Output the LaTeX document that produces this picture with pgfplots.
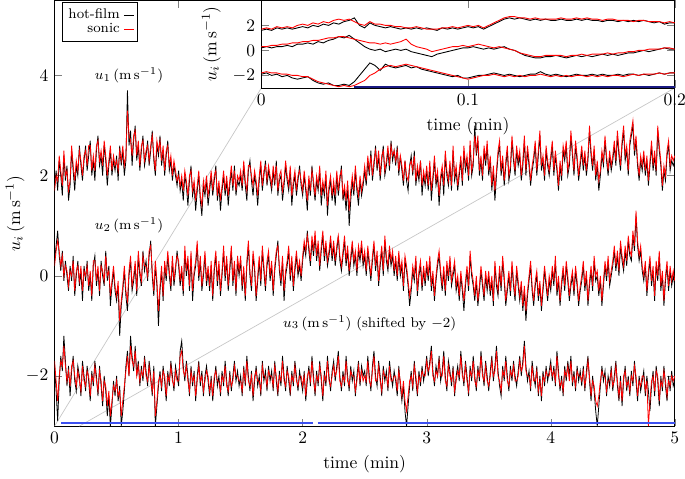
\documentclass[border=0pt]{standalone}
\usepackage{pgfplots}
\pgfplotsset{compat=1.18}
\usepackage{pgfplotstable}
\definecolor{flagblue}{RGB}{60,80,240}
\definecolor{navyblue}{RGB}{25,25,130}

% main series, one value every 0.0125 min from 0 to 5 min (401 values)
\pgfplotstableread[row sep=\\]{y\\
1.8\\2.1\\1.7\\2.3\\2.0\\1.6\\2.4\\1.9\\2.2\\1.5\\1.8\\2.5\\2.1\\1.7\\2.2\\2.0\\2.6\\2.2\\1.9\\2.3\\
2.6\\2.1\\2.4\\2.7\\2.0\\2.3\\1.9\\2.5\\2.8\\2.2\\2.4\\2.0\\2.6\\2.3\\1.8\\2.2\\2.5\\2.0\\2.3\\2.1\\
2.4\\1.9\\2.6\\2.2\\2.5\\2.0\\2.3\\3.7\\2.6\\2.9\\2.2\\2.7\\3.0\\2.3\\2.6\\2.1\\2.5\\2.8\\2.2\\2.4\\
2.7\\2.2\\2.5\\2.9\\2.3\\2.0\\2.6\\2.4\\2.8\\2.2\\2.5\\2.0\\2.4\\2.7\\2.1\\2.3\\1.9\\2.2\\2.0\\1.8\\
2.1\\1.7\\1.9\\1.5\\2.0\\1.8\\1.4\\1.9\\2.2\\1.6\\1.8\\1.3\\1.7\\2.0\\1.5\\1.2\\1.8\\1.6\\1.9\\1.4\\
1.7\\2.0\\1.6\\1.9\\2.2\\1.5\\1.8\\1.3\\1.7\\2.0\\1.6\\1.9\\1.4\\1.8\\2.1\\1.7\\2.2\\1.6\\1.9\\1.8\\
2.0\\1.7\\2.2\\1.8\\1.5\\2.1\\2.3\\1.9\\1.6\\2.0\\1.8\\1.4\\1.9\\2.2\\1.7\\2.0\\2.3\\1.8\\2.1\\1.9\\
1.7\\2.1\\1.8\\2.3\\1.6\\1.9\\2.0\\1.5\\1.8\\2.2\\1.9\\1.7\\2.1\\1.4\\1.8\\2.0\\1.6\\1.9\\2.2\\1.8\\
1.6\\2.0\\1.7\\1.3\\1.9\\1.6\\2.2\\1.8\\1.5\\1.9\\1.7\\2.1\\1.4\\1.8\\1.6\\2.0\\1.2\\1.7\\1.9\\1.5\\
1.8\\1.4\\2.0\\1.6\\1.9\\2.2\\1.5\\1.7\\1.3\\1.8\\1.0\\1.5\\1.9\\1.6\\2.1\\1.7\\1.4\\1.9\\1.6\\1.8\\
2.1\\1.8\\2.3\\2.0\\2.5\\1.9\\2.2\\2.6\\2.1\\2.4\\1.9\\2.3\\2.6\\2.0\\2.2\\2.5\\2.1\\2.7\\2.3\\2.5\\
2.2\\2.6\\2.0\\2.4\\2.1\\1.8\\2.3\\1.9\\1.7\\2.2\\2.4\\2.0\\2.5\\1.8\\2.1\\1.9\\2.3\\1.6\\2.0\\1.8\\
2.1\\1.7\\2.2\\1.5\\1.9\\2.3\\1.8\\2.0\\1.4\\1.9\\2.1\\1.6\\2.4\\2.0\\1.8\\2.2\\1.7\\2.5\\1.9\\2.1\\
1.7\\2.0\\2.3\\1.8\\2.5\\2.1\\2.3\\1.9\\2.6\\2.0\\2.2\\3.0\\2.4\\2.7\\2.0\\2.3\\1.9\\2.5\\2.2\\2.6\\
2.0\\2.3\\1.7\\2.1\\1.5\\2.0\\2.4\\2.6\\2.0\\2.3\\1.8\\2.2\\2.5\\1.9\\2.1\\2.7\\2.3\\2.0\\2.5\\2.2\\
2.4\\1.9\\2.2\\2.7\\2.0\\2.5\\2.2\\1.8\\2.1\\2.3\\2.6\\2.0\\2.4\\2.8\\2.1\\2.3\\1.9\\2.5\\2.2\\2.0\\
2.3\\2.6\\2.0\\2.4\\2.1\\1.7\\2.2\\1.9\\2.5\\2.3\\2.6\\2.0\\2.2\\2.8\\2.4\\2.0\\2.6\\2.3\\1.9\\2.2\\
2.5\\2.1\\2.4\\2.0\\2.3\\2.9\\2.4\\2.1\\2.5\\1.9\\2.2\\1.7\\2.0\\2.4\\2.2\\2.7\\2.3\\2.0\\2.4\\2.1\\
2.3\\2.6\\2.2\\2.8\\2.4\\2.1\\2.6\\2.9\\2.3\\2.5\\2.0\\2.6\\2.8\\3.0\\2.4\\2.7\\2.2\\1.9\\2.3\\2.1\\
2.4\\2.0\\2.3\\1.8\\2.2\\2.6\\2.1\\2.4\\2.0\\2.9\\2.5\\2.2\\1.7\\2.1\\1.9\\2.4\\2.6\\2.1\\2.3\\2.2\\2.3\\}\uoneh

\pgfplotstableread[row sep=\\]{y\\
1.7\\2.0\\1.9\\2.4\\2.1\\1.8\\2.5\\2.0\\2.1\\1.7\\1.9\\2.6\\2.2\\1.9\\2.3\\2.1\\2.5\\2.3\\2.0\\2.4\\
2.5\\2.2\\2.6\\2.6\\2.1\\2.4\\2.1\\2.6\\2.7\\2.3\\2.5\\2.2\\2.7\\2.4\\2.0\\2.3\\2.6\\2.1\\2.4\\2.2\\
2.3\\2.1\\2.5\\2.3\\2.6\\2.2\\2.4\\3.3\\2.8\\2.7\\2.4\\2.8\\2.9\\2.4\\2.7\\2.2\\2.6\\2.7\\2.3\\2.5\\
2.6\\2.3\\2.6\\2.8\\2.4\\2.1\\2.7\\2.5\\2.7\\2.3\\2.6\\2.1\\2.5\\2.6\\2.2\\2.4\\2.0\\2.3\\2.1\\1.9\\
2.0\\1.8\\2.0\\1.7\\2.1\\1.9\\1.6\\2.0\\2.1\\1.7\\1.9\\1.5\\1.8\\2.1\\1.6\\1.4\\1.9\\1.7\\2.0\\1.6\\
1.8\\2.1\\1.7\\2.0\\2.1\\1.6\\1.9\\1.5\\1.8\\2.1\\1.7\\2.0\\1.6\\1.9\\2.2\\1.8\\2.1\\1.7\\2.0\\1.9\\
2.1\\1.8\\2.3\\1.9\\1.7\\2.2\\2.2\\2.0\\1.8\\2.1\\1.9\\1.6\\2.0\\2.3\\1.8\\2.1\\2.2\\1.9\\2.2\\2.0\\
1.8\\2.2\\1.9\\2.2\\1.7\\2.0\\2.1\\1.7\\1.9\\2.3\\2.0\\1.8\\2.2\\1.6\\1.9\\2.1\\1.7\\2.0\\2.1\\1.9\\
1.7\\2.1\\1.8\\1.5\\2.0\\1.7\\2.1\\1.9\\1.6\\2.0\\1.8\\2.2\\1.6\\1.9\\1.7\\2.1\\1.4\\1.8\\2.0\\1.6\\
1.9\\1.6\\2.1\\1.7\\2.0\\2.1\\1.6\\1.8\\1.5\\1.9\\1.3\\1.7\\2.0\\1.7\\2.2\\1.8\\1.6\\2.0\\1.7\\1.9\\
2.2\\1.9\\2.4\\2.1\\2.4\\2.0\\2.3\\2.5\\2.2\\2.5\\2.0\\2.4\\2.5\\2.1\\2.3\\2.6\\2.2\\2.6\\2.4\\2.5\\
2.3\\2.5\\2.1\\2.4\\2.2\\1.9\\2.3\\2.0\\1.9\\2.2\\2.3\\2.1\\2.4\\1.9\\2.2\\2.0\\2.3\\1.8\\2.1\\1.9\\
2.2\\1.8\\2.3\\1.7\\2.0\\2.4\\1.9\\2.1\\1.6\\2.0\\2.2\\1.8\\2.5\\2.1\\1.9\\2.3\\1.8\\2.6\\2.0\\2.2\\
1.8\\2.1\\2.4\\1.9\\2.6\\2.2\\2.4\\2.0\\2.7\\2.1\\2.3\\2.8\\2.5\\2.8\\2.1\\2.4\\2.0\\2.6\\2.3\\2.7\\
2.1\\2.4\\1.8\\2.2\\1.7\\2.1\\2.5\\2.7\\2.1\\2.4\\1.9\\2.3\\2.6\\2.0\\2.2\\2.8\\2.4\\2.1\\2.6\\2.3\\
2.5\\2.0\\2.3\\2.8\\2.1\\2.6\\2.3\\1.9\\2.2\\2.4\\2.7\\2.1\\2.5\\2.9\\2.2\\2.4\\2.0\\2.6\\2.3\\2.1\\
2.4\\2.7\\2.1\\2.5\\2.2\\1.8\\2.3\\2.0\\2.6\\2.4\\2.7\\2.1\\2.3\\2.9\\2.5\\2.1\\2.7\\2.4\\2.0\\2.3\\
2.6\\2.2\\2.5\\2.1\\2.4\\3.0\\2.5\\2.2\\2.6\\2.0\\2.3\\1.9\\2.1\\2.5\\2.3\\2.8\\2.4\\2.1\\2.5\\2.2\\
2.4\\2.7\\2.3\\2.9\\2.5\\2.2\\2.7\\3.0\\2.4\\2.6\\2.1\\2.7\\2.9\\3.1\\2.5\\2.8\\2.3\\2.0\\2.4\\2.2\\
2.5\\2.1\\2.4\\1.9\\2.3\\2.7\\2.2\\2.5\\2.1\\3.0\\2.6\\2.3\\1.8\\2.2\\2.0\\2.5\\2.7\\2.2\\2.4\\2.3\\2.4\\}\uones

\pgfplotstableread[row sep=\\]{y\\
0.3\\0.6\\0.9\\0.4\\0.1\\0.5\\-0.1\\0.3\\0.0\\-0.3\\0.2\\-0.1\\0.4\\-0.4\\0.0\\0.3\\-0.2\\0.1\\-0.5\\0.2\\
-0.1\\0.3\\-0.3\\0.0\\-0.5\\0.2\\0.4\\-0.2\\0.1\\-0.4\\0.3\\0.0\\-0.2\\0.5\\-0.1\\0.2\\-0.6\\-0.2\\0.1\\-0.3\\
-0.5\\-0.2\\-1.2\\-0.6\\-0.3\\0.1\\-0.4\\-0.7\\0.0\\0.3\\-0.3\\-0.1\\0.2\\-0.4\\0.4\\0.0\\-0.2\\0.5\\0.1\\0.3\\
-0.1\\0.4\\0.7\\0.0\\-0.4\\0.2\\-0.2\\-1.0\\-0.3\\0.1\\-0.5\\0.2\\-0.1\\0.4\\0.0\\-0.3\\0.3\\-0.2\\0.1\\0.5\\
0.2\\-0.2\\0.1\\-0.4\\0.5\\0.0\\0.3\\-0.3\\0.4\\-0.5\\0.0\\0.2\\0.6\\-0.1\\0.3\\-0.3\\0.0\\0.4\\-0.2\\0.1\\
-0.3\\0.2\\-0.5\\0.1\\0.4\\-0.2\\0.2\\-0.4\\0.0\\0.5\\-0.1\\0.3\\-0.3\\0.1\\0.5\\-0.2\\0.2\\-0.4\\0.3\\0.0\\
0.3\\-0.3\\0.1\\-0.5\\0.2\\0.6\\0.0\\-0.3\\0.4\\0.1\\-0.5\\-0.1\\0.3\\-0.2\\0.5\\0.1\\-0.3\\0.2\\0.4\\-0.1\\
0.2\\-0.4\\0.1\\0.4\\0.7\\0.1\\-0.2\\0.3\\-0.5\\0.0\\0.2\\0.5\\-0.1\\0.3\\-0.3\\0.1\\0.4\\0.0\\0.2\\-0.1\\
0.3\\0.6\\0.4\\0.9\\0.5\\0.2\\0.7\\0.4\\0.8\\0.3\\0.6\\0.1\\0.5\\0.8\\0.3\\0.6\\0.2\\0.4\\0.7\\0.3\\
0.6\\0.2\\0.5\\0.8\\0.3\\0.1\\0.4\\0.7\\0.2\\0.5\\0.0\\0.3\\0.6\\0.2\\0.4\\0.0\\0.5\\0.3\\0.6\\0.2\\
0.4\\0.0\\0.5\\0.2\\-0.1\\0.3\\0.6\\0.1\\0.4\\-0.2\\0.2\\0.5\\0.0\\0.7\\0.3\\0.1\\0.5\\0.2\\0.4\\0.0\\
0.3\\-0.1\\0.4\\0.0\\0.2\\-0.3\\0.3\\0.1\\-0.2\\-0.6\\-0.3\\0.1\\-0.1\\0.3\\-0.4\\0.0\\0.2\\-0.3\\0.1\\-0.2\\
0.2\\-0.1\\0.3\\-0.3\\0.0\\-0.5\\-0.1\\0.2\\0.4\\0.0\\-0.3\\0.1\\-0.4\\0.2\\-0.1\\0.3\\-0.2\\0.0\\0.2\\-0.3\\
-0.1\\-0.5\\0.0\\-0.3\\-0.7\\-0.2\\0.1\\-0.3\\0.4\\0.0\\-0.2\\-0.5\\-0.1\\-0.6\\-0.3\\0.1\\-0.2\\-0.5\\0.0\\-0.3\\
0.0\\-0.4\\-0.1\\-0.6\\0.2\\-0.2\\-0.4\\0.1\\-0.3\\0.3\\-0.1\\-0.6\\-0.3\\0.0\\-0.4\\0.2\\-0.2\\-0.5\\0.1\\-0.2\\
-0.5\\-0.2\\-0.7\\-0.3\\-0.9\\-0.4\\-0.1\\0.2\\-0.3\\-0.6\\-0.2\\0.0\\-0.5\\-0.2\\-0.7\\-0.3\\0.1\\-0.2\\-0.5\\-0.1\\
-0.3\\0.1\\-0.2\\0.3\\-0.4\\-0.1\\-0.6\\-0.2\\0.1\\-0.3\\0.2\\-0.1\\-0.5\\-0.2\\0.0\\-0.4\\0.1\\-0.2\\-0.6\\-0.3\\
-0.1\\0.2\\-0.3\\0.0\\-0.6\\-0.2\\0.1\\-0.3\\0.3\\-0.1\\0.0\\-0.4\\-0.1\\-0.6\\-0.2\\0.2\\-0.1\\0.3\\-0.2\\0.0\\
0.2\\0.5\\0.1\\0.4\\0.0\\0.6\\0.3\\0.1\\0.5\\0.2\\0.7\\0.4\\0.3\\0.8\\0.5\\1.2\\0.6\\0.3\\0.5\\0.1\\
-0.1\\0.2\\-0.4\\0.0\\0.3\\-0.2\\0.1\\-0.5\\0.2\\-0.1\\0.4\\-0.3\\0.0\\-0.6\\-0.1\\0.2\\-0.3\\0.1\\-0.2\\0.0\\-0.2\\}\utwoh

\pgfplotstableread[row sep=\\]{y\\
0.2\\0.5\\0.7\\0.5\\0.2\\0.4\\0.0\\0.2\\0.1\\-0.2\\0.1\\0.0\\0.3\\-0.3\\0.1\\0.2\\-0.1\\0.2\\-0.3\\0.1\\
0.0\\0.2\\-0.2\\0.1\\-0.4\\0.3\\0.3\\-0.1\\0.2\\-0.3\\0.2\\0.1\\-0.1\\0.4\\0.0\\0.1\\-0.4\\-0.1\\0.2\\-0.2\\
-0.4\\-0.1\\-0.9\\-0.5\\-0.2\\0.2\\-0.3\\-0.5\\0.1\\0.4\\-0.2\\0.0\\0.3\\-0.3\\0.5\\0.1\\-0.1\\0.4\\0.2\\0.2\\
0.0\\0.5\\0.6\\0.1\\-0.3\\0.3\\-0.1\\-0.7\\-0.2\\0.2\\-0.4\\0.3\\0.0\\0.5\\0.1\\-0.2\\0.4\\-0.1\\0.2\\0.4\\
0.3\\-0.1\\0.2\\-0.3\\0.6\\0.1\\0.4\\-0.2\\0.5\\-0.3\\0.1\\0.3\\0.7\\0.0\\0.4\\-0.2\\0.1\\0.5\\-0.1\\0.2\\
-0.2\\0.3\\-0.4\\0.2\\0.5\\-0.1\\0.3\\-0.3\\0.1\\0.6\\0.0\\0.4\\-0.2\\0.2\\0.6\\-0.1\\0.3\\-0.3\\0.4\\0.1\\
0.4\\-0.2\\0.2\\-0.4\\0.3\\0.7\\0.1\\-0.2\\0.5\\0.2\\-0.4\\0.0\\0.4\\-0.1\\0.6\\0.2\\-0.2\\0.3\\0.5\\0.0\\
0.3\\-0.3\\0.2\\0.5\\0.6\\0.2\\-0.1\\0.4\\-0.3\\0.1\\0.3\\0.6\\0.0\\0.4\\-0.2\\0.2\\0.5\\0.1\\0.3\\0.0\\
0.4\\0.7\\0.5\\0.8\\0.6\\0.3\\0.8\\0.5\\0.9\\0.4\\0.7\\0.2\\0.6\\0.9\\0.4\\0.7\\0.3\\0.5\\0.8\\0.4\\
0.7\\0.3\\0.6\\0.8\\0.4\\0.2\\0.5\\0.8\\0.3\\0.6\\0.1\\0.4\\0.7\\0.3\\0.5\\0.1\\0.6\\0.4\\0.7\\0.3\\
0.5\\0.1\\0.6\\0.3\\0.0\\0.4\\0.7\\0.2\\0.5\\-0.1\\0.3\\0.6\\0.1\\0.8\\0.4\\0.2\\0.6\\0.3\\0.5\\0.1\\
0.4\\0.0\\0.5\\0.1\\0.3\\-0.2\\0.4\\0.2\\-0.1\\-0.4\\-0.2\\0.2\\0.0\\0.4\\-0.3\\0.1\\0.3\\-0.2\\0.2\\-0.1\\
0.3\\0.0\\0.4\\-0.2\\0.1\\-0.4\\0.0\\0.3\\0.5\\0.1\\-0.2\\0.2\\-0.3\\0.3\\0.0\\0.4\\-0.1\\0.1\\0.3\\-0.2\\
0.0\\-0.4\\0.1\\-0.2\\-0.5\\-0.1\\0.2\\-0.2\\0.5\\0.1\\-0.1\\-0.4\\0.0\\-0.5\\-0.2\\0.2\\-0.1\\-0.4\\0.1\\-0.2\\
0.1\\-0.3\\0.0\\-0.5\\0.3\\-0.1\\-0.3\\0.2\\-0.2\\0.4\\0.0\\-0.5\\-0.2\\0.1\\-0.3\\0.3\\-0.1\\-0.4\\0.2\\-0.1\\
-0.4\\-0.1\\-0.6\\-0.2\\-0.7\\-0.3\\0.0\\0.3\\-0.2\\-0.5\\-0.1\\0.1\\-0.4\\-0.1\\-0.6\\-0.2\\0.2\\-0.1\\-0.4\\0.0\\
-0.2\\0.2\\-0.1\\0.4\\-0.3\\0.0\\-0.5\\-0.1\\0.2\\-0.2\\0.3\\0.0\\-0.4\\-0.1\\0.1\\-0.3\\0.2\\-0.1\\-0.5\\-0.2\\
0.0\\0.3\\-0.2\\0.1\\-0.5\\-0.1\\0.2\\-0.2\\0.4\\0.0\\0.1\\-0.3\\0.0\\-0.5\\-0.1\\0.3\\0.0\\0.4\\-0.1\\0.1\\
0.3\\0.6\\0.2\\0.5\\0.1\\0.7\\0.4\\0.2\\0.6\\0.3\\0.8\\0.5\\0.4\\0.9\\0.6\\1.3\\0.7\\0.4\\0.6\\0.2\\
0.0\\0.3\\-0.3\\0.1\\0.4\\-0.1\\0.2\\-0.4\\0.3\\0.0\\0.5\\-0.2\\0.1\\-0.5\\0.0\\0.3\\-0.2\\0.2\\-0.1\\0.1\\-0.1\\}\utwos

\pgfplotstableread[row sep=\\]{y\\
-1.8\\-2.3\\-2.9\\-2.1\\-1.6\\-1.9\\-1.2\\-1.7\\-2.2\\-1.8\\-2.4\\-1.9\\-1.6\\-2.1\\-2.3\\-1.8\\-2.0\\-2.4\\-1.7\\-2.0\\
-2.3\\-1.8\\-2.1\\-2.5\\-1.9\\-2.2\\-1.7\\-2.0\\-2.4\\-1.8\\-2.2\\-2.6\\-2.0\\-2.3\\-2.8\\-2.4\\-3.0\\-2.6\\-2.1\\-2.4\\
-2.0\\-2.5\\-2.2\\-3.0\\-2.7\\-2.3\\-1.8\\-1.5\\-2.0\\-1.2\\-1.6\\-1.9\\-1.4\\-2.0\\-1.7\\-2.2\\-1.8\\-2.1\\-1.6\\-1.9\\
-2.2\\-1.7\\-2.0\\-2.4\\-1.8\\-3.0\\-2.6\\-2.2\\-1.9\\-2.3\\-1.8\\-2.1\\-2.5\\-1.9\\-2.2\\-1.7\\-2.0\\-2.3\\-1.8\\-2.0\\
-2.2\\-1.5\\-1.3\\-1.8\\-2.1\\-1.7\\-2.0\\-2.4\\-1.8\\-2.2\\-1.9\\-2.5\\-2.0\\-1.7\\-2.2\\-1.9\\-2.4\\-2.0\\-1.8\\-2.1\\
-2.4\\-2.0\\-2.5\\-2.1\\-1.8\\-2.2\\-2.0\\-2.4\\-1.9\\-2.2\\-1.7\\-2.1\\-2.4\\-1.9\\-2.3\\-2.0\\-1.7\\-2.1\\-1.9\\-2.2\\
-2.0\\-2.4\\-1.8\\-2.2\\-1.6\\-2.0\\-2.3\\-1.9\\-2.5\\-2.1\\-1.8\\-2.2\\-2.0\\-2.4\\-1.7\\-2.1\\-1.9\\-2.3\\-1.8\\-2.1\\
-1.9\\-2.3\\-1.7\\-2.1\\-2.4\\-1.9\\-2.2\\-1.6\\-2.0\\-2.3\\-1.8\\-2.1\\-2.4\\-1.9\\-2.2\\-1.7\\-2.0\\-2.3\\-1.9\\-2.1\\
-2.3\\-1.9\\-2.5\\-2.1\\-1.8\\-2.2\\-1.6\\-2.0\\-2.4\\-1.9\\-2.2\\-1.7\\-2.1\\-2.5\\-1.9\\-2.2\\-1.6\\-2.0\\-2.3\\-1.9\\
-1.7\\-2.1\\-1.8\\-1.5\\-2.0\\-2.3\\-1.9\\-2.2\\-1.6\\-2.0\\-2.3\\-1.8\\-2.1\\-1.9\\-2.4\\-2.0\\-1.7\\-2.2\\-1.8\\-2.0\\
-1.9\\-2.2\\-1.6\\-2.0\\-2.3\\-1.8\\-1.5\\-2.0\\-2.2\\-1.7\\-2.0\\-2.4\\-1.8\\-2.1\\-1.9\\-2.3\\-1.7\\-2.0\\-2.2\\-1.9\\
-2.1\\-2.4\\-1.8\\-2.2\\-2.5\\-2.2\\-2.7\\-3.0\\-2.6\\-2.2\\-1.9\\-2.3\\-1.7\\-2.1\\-2.4\\-1.9\\-2.2\\-1.8\\-2.1\\-1.9\\
-1.6\\-2.0\\-1.7\\-1.4\\-1.9\\-2.2\\-1.8\\-2.0\\-1.6\\-2.1\\-1.9\\-1.5\\-2.0\\-2.3\\-1.7\\-1.9\\-2.2\\-1.8\\-2.4\\-2.0\\
-1.8\\-2.1\\-1.5\\-1.9\\-2.2\\-1.7\\-2.0\\-2.4\\-1.8\\-2.1\\-1.6\\-2.0\\-2.3\\-1.8\\-2.1\\-1.5\\-1.9\\-2.2\\-1.7\\-2.0\\
-2.3\\-1.9\\-1.6\\-2.1\\-1.8\\-1.4\\-1.9\\-2.2\\-2.4\\-1.8\\-2.1\\-1.6\\-2.0\\-2.3\\-1.8\\-2.1\\-1.7\\-2.0\\-2.2\\-1.9\\
-1.6\\-2.0\\-1.7\\-1.3\\-1.8\\-2.1\\-1.9\\-2.3\\-1.7\\-2.0\\-2.2\\-1.8\\-2.4\\-2.0\\-2.5\\-1.9\\-2.2\\-1.8\\-2.1\\-1.9\\
-1.7\\-2.1\\-1.8\\-2.2\\-1.5\\-1.9\\-2.3\\-2.0\\-2.4\\-1.8\\-2.1\\-1.7\\-2.0\\-1.6\\-2.2\\-1.9\\-2.3\\-1.8\\-2.1\\-1.9\\
-2.2\\-1.8\\-2.3\\-1.9\\-1.6\\-2.1\\-2.5\\-2.0\\-2.3\\-2.7\\-3.0\\-2.6\\-2.2\\-1.8\\-2.1\\-1.9\\-2.4\\-2.0\\-2.2\\-1.8\\
-2.3\\-2.0\\-1.7\\-2.2\\-2.5\\-2.0\\-2.6\\-2.1\\-1.8\\-2.3\\-2.0\\-2.4\\-1.9\\-2.2\\-1.7\\-2.1\\-2.5\\-2.0\\-2.3\\-2.1\\
-1.9\\-2.4\\-2.0\\-2.3\\-2.7\\-2.2\\-1.9\\-2.4\\-1.8\\-2.1\\-2.6\\-2.0\\-2.3\\-1.8\\-2.2\\-2.5\\-2.0\\-2.3\\-1.9\\-2.2\\-2.1\\}\uthreeh

\pgfplotstableread[row sep=\\]{y\\
-1.7\\-2.1\\-2.5\\-2.0\\-1.7\\-1.8\\-1.4\\-1.8\\-2.1\\-1.9\\-2.2\\-1.8\\-1.7\\-2.0\\-2.2\\-1.9\\-2.1\\-2.3\\-1.8\\-2.1\\
-2.2\\-1.9\\-2.0\\-2.4\\-2.0\\-2.1\\-1.8\\-2.1\\-2.3\\-1.9\\-2.1\\-2.5\\-2.1\\-2.2\\-2.6\\-2.3\\-2.8\\-2.5\\-2.2\\-2.3\\
-2.1\\-2.4\\-2.3\\-2.8\\-2.5\\-2.2\\-1.9\\-1.6\\-2.0\\-1.4\\-1.7\\-1.8\\-1.5\\-2.0\\-1.8\\-2.1\\-1.9\\-2.0\\-1.7\\-2.0\\
-2.1\\-1.8\\-2.1\\-2.3\\-1.9\\-2.8\\-2.5\\-2.1\\-2.0\\-2.2\\-1.9\\-2.0\\-2.4\\-2.0\\-2.1\\-1.8\\-2.1\\-2.2\\-1.9\\-2.1\\
-2.1\\-1.6\\-1.5\\-1.9\\-2.0\\-1.8\\-2.1\\-2.3\\-1.9\\-2.1\\-2.0\\-2.4\\-2.1\\-1.8\\-2.1\\-2.0\\-2.3\\-2.1\\-1.9\\-2.0\\
-2.3\\-2.1\\-2.4\\-2.0\\-1.9\\-2.1\\-2.1\\-2.3\\-2.0\\-2.1\\-1.8\\-2.2\\-2.3\\-2.0\\-2.2\\-2.1\\-1.8\\-2.0\\-2.0\\-2.1\\
-2.1\\-2.3\\-1.9\\-2.1\\-1.7\\-2.1\\-2.2\\-2.0\\-2.4\\-2.0\\-1.9\\-2.1\\-2.1\\-2.3\\-1.8\\-2.0\\-2.0\\-2.2\\-1.9\\-2.0\\
-2.0\\-2.2\\-1.8\\-2.0\\-2.3\\-2.0\\-2.1\\-1.7\\-2.1\\-2.2\\-1.9\\-2.0\\-2.3\\-2.0\\-2.1\\-1.8\\-2.1\\-2.2\\-2.0\\-2.0\\
-2.2\\-2.0\\-2.4\\-2.0\\-1.9\\-2.1\\-1.7\\-2.1\\-2.3\\-2.0\\-2.1\\-1.8\\-2.0\\-2.4\\-2.0\\-2.1\\-1.7\\-2.1\\-2.2\\-2.0\\
-1.8\\-2.0\\-1.9\\-1.6\\-2.1\\-2.2\\-2.0\\-2.1\\-1.7\\-2.1\\-2.2\\-1.9\\-2.0\\-2.0\\-2.3\\-2.1\\-1.8\\-2.1\\-1.9\\-2.1\\
-2.0\\-2.1\\-1.7\\-2.1\\-2.2\\-1.9\\-1.6\\-2.1\\-2.1\\-1.8\\-2.1\\-2.3\\-1.9\\-2.0\\-2.0\\-2.2\\-1.8\\-2.1\\-2.1\\-2.0\\
-2.0\\-2.3\\-1.9\\-2.1\\-2.4\\-2.1\\-2.5\\-2.7\\-2.4\\-2.1\\-2.0\\-2.2\\-1.8\\-2.0\\-2.3\\-2.0\\-2.1\\-1.9\\-2.0\\-2.0\\
-1.7\\-1.9\\-1.8\\-1.5\\-2.0\\-2.1\\-1.9\\-2.0\\-1.7\\-2.0\\-2.0\\-1.6\\-2.1\\-2.2\\-1.8\\-2.0\\-2.1\\-1.9\\-2.3\\-2.1\\
-1.9\\-2.0\\-1.6\\-2.0\\-2.1\\-1.8\\-2.1\\-2.3\\-1.9\\-2.0\\-1.7\\-2.1\\-2.2\\-1.9\\-2.0\\-1.6\\-2.0\\-2.1\\-1.8\\-2.1\\
-2.2\\-2.0\\-1.7\\-2.0\\-1.9\\-1.5\\-2.0\\-2.1\\-2.3\\-1.9\\-2.0\\-1.7\\-2.1\\-2.2\\-1.9\\-2.0\\-1.8\\-2.1\\-2.1\\-2.0\\
-1.7\\-1.9\\-1.8\\-1.4\\-1.9\\-2.0\\-2.0\\-2.2\\-1.8\\-2.1\\-2.1\\-1.9\\-2.3\\-2.1\\-2.4\\-2.0\\-2.1\\-1.9\\-2.0\\-2.0\\
-1.8\\-2.0\\-1.9\\-2.1\\-1.6\\-2.0\\-2.2\\-2.1\\-2.3\\-1.9\\-2.0\\-1.8\\-2.1\\-1.7\\-2.1\\-2.0\\-2.2\\-1.9\\-2.0\\-2.0\\
-2.1\\-1.9\\-2.2\\-2.0\\-1.7\\-2.0\\-2.4\\-2.1\\-2.2\\-2.5\\-2.6\\-2.4\\-2.1\\-1.9\\-2.0\\-2.0\\-2.3\\-2.1\\-2.1\\-1.9\\
-2.2\\-2.1\\-1.8\\-2.1\\-2.4\\-2.1\\-2.5\\-2.0\\-1.9\\-2.2\\-2.1\\-2.3\\-2.0\\-2.1\\-1.8\\-2.0\\-2.4\\-2.1\\-2.2\\-2.0\\
-2.0\\-2.3\\-2.1\\-3.0\\-2.5\\-2.1\\-2.0\\-2.3\\-1.9\\-2.0\\-2.5\\-2.1\\-2.2\\-1.9\\-2.1\\-2.4\\-2.1\\-2.2\\-2.0\\-2.1\\-2.0\\}\uthrees

% inset series, one value every 0.0025 min from 0 to 0.2 min
\pgfplotstableread[row sep=\\]{y\\
1.6\\1.7\\1.6\\1.8\\1.7\\1.8\\1.7\\1.8\\1.9\\
1.8\\2.0\\1.9\\2.1\\2.0\\2.2\\2.1\\2.3\\
2.4\\2.6\\2.0\\1.8\\2.2\\2.0\\1.9\\1.8\\
1.9\\1.8\\1.7\\1.8\\1.7\\1.8\\1.7\\1.8\\
1.7\\1.6\\1.8\\1.7\\1.8\\1.7\\1.8\\1.9\\
1.8\\1.9\\1.7\\1.9\\2.1\\2.3\\2.5\\2.6\\
2.5\\2.6\\2.5\\2.4\\2.5\\2.4\\2.5\\2.4\\
2.4\\2.5\\2.4\\2.4\\2.5\\2.4\\2.5\\2.4\\
2.4\\2.3\\2.4\\2.4\\2.3\\2.4\\2.3\\2.4\\
2.3\\2.4\\2.3\\2.2\\2.3\\2.1\\2.2\\2.2\\}\ioneh

\pgfplotstableread[row sep=\\]{y\\
1.7\\1.8\\1.7\\1.9\\1.8\\1.9\\1.8\\2.0\\2.1\\
2.0\\2.2\\2.1\\2.3\\2.2\\2.4\\2.5\\2.4\\
2.5\\2.3\\2.1\\2.0\\2.3\\2.1\\2.1\\2.0\\
2.0\\1.9\\1.9\\1.8\\1.8\\1.9\\1.8\\1.7\\
1.7\\1.7\\1.8\\1.8\\1.9\\1.8\\1.9\\2.0\\
1.9\\2.0\\1.8\\2.0\\2.2\\2.4\\2.6\\2.7\\
2.7\\2.6\\2.6\\2.5\\2.6\\2.5\\2.5\\2.5\\
2.5\\2.6\\2.5\\2.5\\2.6\\2.5\\2.6\\2.5\\
2.5\\2.4\\2.5\\2.5\\2.4\\2.4\\2.4\\2.3\\
2.4\\2.4\\2.3\\2.3\\2.3\\2.2\\2.3\\2.2\\}\iones

\pgfplotstableread[row sep=\\]{y\\
0.2\\0.3\\0.2\\0.3\\0.3\\0.4\\0.3\\0.5\\0.5\\
0.6\\0.5\\0.7\\0.6\\0.8\\0.9\\1.1\\1.0\\
1.2\\0.9\\0.6\\0.3\\0.1\\0.0\\0.1\\-0.1\\
0.0\\0.1\\0.0\\0.1\\-0.1\\-0.2\\-0.3\\-0.4\\
-0.5\\-0.3\\-0.2\\-0.1\\0.0\\0.1\\0.2\\0.2\\
0.3\\0.2\\0.1\\0.2\\0.1\\0.2\\0.3\\0.1\\
0.0\\-0.2\\-0.4\\-0.5\\-0.6\\-0.6\\-0.5\\-0.5\\
-0.4\\-0.5\\-0.6\\-0.5\\-0.4\\-0.5\\-0.4\\-0.5\\
-0.4\\-0.3\\-0.4\\-0.3\\-0.4\\-0.3\\-0.2\\-0.2\\
-0.1\\0.0\\-0.1\\0.0\\0.1\\0.2\\0.1\\0.1\\}\itwoh

\pgfplotstableread[row sep=\\]{y\\
0.3\\0.3\\0.4\\0.4\\0.5\\0.5\\0.6\\0.6\\0.7\\
0.7\\0.8\\0.8\\0.9\\1.0\\1.0\\1.1\\1.1\\
1.0\\0.9\\0.8\\0.7\\0.6\\0.6\\0.5\\0.6\\
0.5\\0.6\\0.7\\0.9\\0.5\\0.3\\0.2\\0.1\\
-0.1\\0.0\\0.1\\0.2\\0.3\\0.3\\0.4\\0.3\\
0.4\\0.5\\0.4\\0.3\\0.2\\0.3\\0.2\\0.1\\
0.0\\-0.2\\-0.3\\-0.4\\-0.5\\-0.5\\-0.4\\-0.4\\
-0.4\\-0.4\\-0.5\\-0.4\\-0.4\\-0.3\\-0.4\\-0.3\\
-0.3\\-0.3\\-0.2\\-0.3\\-0.2\\-0.2\\-0.1\\-0.1\\
0.0\\0.0\\0.1\\0.1\\0.1\\0.2\\0.2\\0.1\\}\itwos

\pgfplotstableread[row sep=\\]{y\\
-1.9\\-1.8\\-2.0\\-1.9\\-2.1\\-2.0\\-2.2\\-2.3\\-2.2\\
-2.1\\-2.4\\-2.6\\-2.7\\-2.6\\-2.8\\-2.8\\-2.7\\
-2.8\\-2.5\\-2.0\\-1.5\\-1.0\\-1.2\\-1.6\\-1.1\\
-1.3\\-1.4\\-1.3\\-1.2\\-1.4\\-1.3\\-1.5\\-1.6\\
-1.7\\-1.8\\-1.9\\-2.0\\-2.1\\-2.0\\-2.2\\-2.2\\
-2.1\\-2.0\\-2.0\\-1.9\\-1.8\\-1.9\\-2.0\\-1.9\\
-2.0\\-2.1\\-2.0\\-1.9\\-1.9\\-1.7\\-1.9\\-2.0\\
-1.9\\-2.0\\-2.1\\-2.0\\-1.9\\-2.0\\-2.0\\-1.9\\
-2.0\\-1.9\\-2.0\\-2.0\\-1.9\\-2.0\\-1.9\\-1.9\\
-2.0\\-1.9\\-2.0\\-1.9\\-1.8\\-1.9\\-1.8\\-1.8\\}\ithreeh

\pgfplotstableread[row sep=\\]{y\\
-1.8\\-1.7\\-1.8\\-1.8\\-1.9\\-1.9\\-2.0\\-2.0\\-2.1\\
-2.1\\-2.3\\-2.5\\-2.6\\-2.7\\-2.8\\-2.9\\-2.8\\
-2.9\\-2.8\\-2.6\\-2.4\\-2.0\\-1.8\\-1.5\\-1.3\\
-1.2\\-1.3\\-1.2\\-1.1\\-1.2\\-1.3\\-1.4\\-1.5\\
-1.6\\-1.7\\-1.8\\-1.9\\-2.0\\-2.1\\-2.2\\-2.3\\
-2.2\\-2.1\\-2.0\\-2.0\\-1.9\\-2.0\\-2.1\\-2.0\\
-2.1\\-2.0\\-2.1\\-2.0\\-2.0\\-1.9\\-2.0\\-2.1\\
-2.0\\-2.1\\-2.0\\-2.1\\-2.0\\-2.0\\-2.1\\-2.0\\
-2.1\\-2.0\\-2.1\\-2.0\\-2.0\\-2.1\\-2.0\\-1.9\\
-2.0\\-1.9\\-1.9\\-1.9\\-1.8\\-1.9\\-1.8\\-1.8\\}\ithrees

\begin{document}
\begin{tikzpicture}
\begin{axis}[
  name=main,
  scale only axis,
  width=354pt, height=243pt,
  xmin=0, xmax=5, ymin=-3, ymax=5.5,
  xtick={0,1,2,3,4,5},
  ytick={-2,0,2,4},
  xlabel={time (min)},
  ylabel={$u_i\,(\mathrm{m\,s^{-1}})$},
  ylabel shift=-6pt,
  legend style={at={(0.012,0.995)}, anchor=north west, font=\footnotesize,
    legend cell align=right, inner sep=1.5pt, row sep=-3pt, draw=black},
  legend plot pos=right,
  legend image code/.code={\draw[#1, line width=0.6pt] (0cm,0cm) -- (0.2cm,0cm);},
]
\draw[black!22, line width=0.4pt] (axis cs:0,-3) -- (axis cs:1.667,3.751);
\draw[black!22, line width=0.4pt] (axis cs:0.2,-3) -- (axis cs:5,3.751);

\addplot[black, line width=0.45pt] table[x expr=\coordindex*0.0125, y=y] {\uoneh};
\addlegendentry{hot-film}
\addplot[red, line width=0.45pt] table[x expr=\coordindex*0.0125, y=y] {\uones};
\addlegendentry{sonic}
\addplot[black, line width=0.45pt, forget plot] table[x expr=\coordindex*0.0125, y=y] {\utwoh};
\addplot[red, line width=0.45pt, forget plot] table[x expr=\coordindex*0.0125, y=y] {\utwos};
\addplot[black, line width=0.45pt, forget plot] table[x expr=\coordindex*0.0125, y=y] {\uthreeh};
\addplot[red, line width=0.45pt, forget plot] table[x expr=\coordindex*0.0125, y=y] {\uthrees};

\addplot[flagblue, line width=1.5pt, forget plot] coordinates {(0.055,-2.94) (2.08,-2.94)};
\addplot[flagblue, line width=1.5pt, forget plot] coordinates {(2.12,-2.94) (5,-2.94)};

\node[font=\footnotesize] at (axis cs:0.6,4.0) {$u_1\,(\mathrm{m\,s^{-1}})$};
\node[font=\footnotesize] at (axis cs:0.6,1.0) {$u_2\,(\mathrm{m\,s^{-1}})$};
\node[font=\footnotesize] at (axis cs:2.54,-0.94) {$u_3\,(\mathrm{m\,s^{-1}})$ (shifted by $-2$)};
\end{axis}

\begin{axis}[
  at={(main.north east)}, anchor=north east,
  scale only axis,
  width=236pt, height=50pt,
  xmin=0, xmax=0.2, ymin=-3, ymax=4,
  xtick={0,0.1,0.2},
  ytick={-2,0,2},
  xticklabel style={overlay},
  xlabel={time (min)},
  ylabel={$u_i\,(\mathrm{m\,s^{-1}})$},
  axis background/.style={fill=white},
]
\addplot[black, line width=0.5pt] table[x expr=\coordindex*0.0025, y=y] {\ioneh};
\addplot[red, line width=0.5pt] table[x expr=\coordindex*0.0025, y=y] {\iones};
\addplot[black, line width=0.5pt] table[x expr=\coordindex*0.0025, y=y] {\itwoh};
\addplot[red, line width=0.5pt] table[x expr=\coordindex*0.0025, y=y] {\itwos};
\addplot[black, line width=0.5pt] table[x expr=\coordindex*0.0025, y=y] {\ithreeh};
\addplot[red, line width=0.5pt] table[x expr=\coordindex*0.0025, y=y] {\ithrees};
\addplot[navyblue, line width=1pt] coordinates {(0.045,-2.95) (0.2,-2.95)};
\end{axis}
\end{tikzpicture}
\end{document}
